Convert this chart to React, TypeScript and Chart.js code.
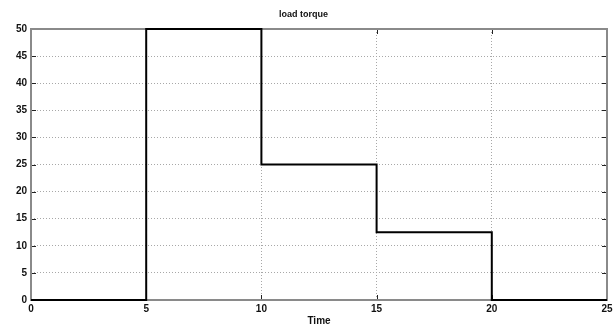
import React, { useEffect, useRef } from "react";
import { Chart, registerables } from "chart.js";

Chart.register(...registerables);

const time = [0, 5, 10, 15, 20, 25];
const torque = [0, 50, 25, 12.5, 0, 0];
const xTicks = [0, 5, 10, 15, 20, 25];
const yTicks = [0, 5, 10, 15, 20, 25, 30, 35, 40, 45, 50];
const titleText = "load torque";
const xLabel = "Time";

const FONT = "'Liberation Sans Narrow', 'Liberation Sans', Arial, sans-serif";

const boxPlugin = {
  id: "boxTicks",
  beforeDatasetsDraw(chart: any) {
    const { ctx, chartArea } = chart;
    const { left, right, top, bottom } = chartArea;
    const xs = chart.scales.x;
    const ys = chart.scales.y;
    ctx.save();
    ctx.strokeStyle = "#222";
    ctx.lineWidth = 1;
    ctx.beginPath();
    for (const v of xTicks) {
      const px = Math.round(xs.getPixelForValue(v)) + 0.5;
      ctx.moveTo(px, bottom);
      ctx.lineTo(px, bottom - 5);
      ctx.moveTo(px, top);
      ctx.lineTo(px, top + 5);
    }
    for (const v of yTicks) {
      const py = Math.round(ys.getPixelForValue(v)) + 0.5;
      ctx.moveTo(left, py);
      ctx.lineTo(left + 5, py);
      ctx.moveTo(right, py);
      ctx.lineTo(right - 5, py);
    }
    ctx.stroke();
    ctx.strokeStyle = "#8a8a8a";
    ctx.lineWidth = 2;
    ctx.strokeRect(left, top, right - left, bottom - top);
    ctx.restore();
  },
};

export default function App() {
  const ref = useRef<HTMLCanvasElement>(null);
  useEffect(() => {
    document.body.style.margin = "0";
    const points = time.map((t, i) => ({ x: t, y: torque[i] }));
    const chart = new Chart(ref.current!, {
      type: "line",
      data: {
        datasets: [
          {
            data: points,
            borderColor: "#000",
            borderWidth: 2,
            pointRadius: 0,
            stepped: "before",
            fill: false,
            clip: 4,
          },
        ],
      },
      options: {
        animation: false,
        responsive: false,
        layout: { padding: { left: 0, right: 9, top: 0, bottom: 0 } },
        plugins: {
          legend: { display: false },
          tooltip: { enabled: false },
          title: {
            display: true,
            text: titleText,
            color: "#111",
            font: { family: FONT, size: 9, weight: "bold", lineHeight: 1.2 },
            padding: { top: 9, bottom: 9.2 },
          },
        },
        scales: {
          x: {
            type: "linear",
            min: 0,
            max: 25,
            afterBuildTicks: (s: any) => {
              s.ticks = xTicks.map((v) => ({ value: v }));
            },
            afterFit: (s: any) => {
              s.height = 29;
            },
            ticks: {
              color: "#111",
              font: { family: FONT, size: 10, weight: "bold" },
              padding: 3,
              maxRotation: 0,
            },
            grid: {
              color: "#a8a8a8",
              drawTicks: false,
              lineWidth: 1,
            },
            border: { display: false, dash: [1, 2] },
            title: {
              display: true,
              text: xLabel,
              color: "#111",
              font: { family: FONT, size: 10, weight: "bold", lineHeight: 1.2 },
              padding: { top: 2, bottom: 2 },
            },
          },
          y: {
            type: "linear",
            min: 0,
            max: 50,
            afterBuildTicks: (s: any) => {
              s.ticks = yTicks.map((v) => ({ value: v }));
            },
            afterFit: (s: any) => {
              s.width = 31;
            },
            ticks: {
              color: "#111",
              font: { family: FONT, size: 10, weight: "bold" },
              padding: 4,
            },
            grid: {
              color: "#a8a8a8",
              drawTicks: false,
              lineWidth: 1,
            },
            border: { display: false, dash: [1, 2] },
          },
        },
      },
      plugins: [boxPlugin],
    });
    return () => chart.destroy();
  }, []);
  return (
    <div style={{ position: "absolute", left: 0, top: 0, width: 616, height: 329, background: "#fff" }}>
      <canvas ref={ref} width={616} height={329} />
    </div>
  );
}
